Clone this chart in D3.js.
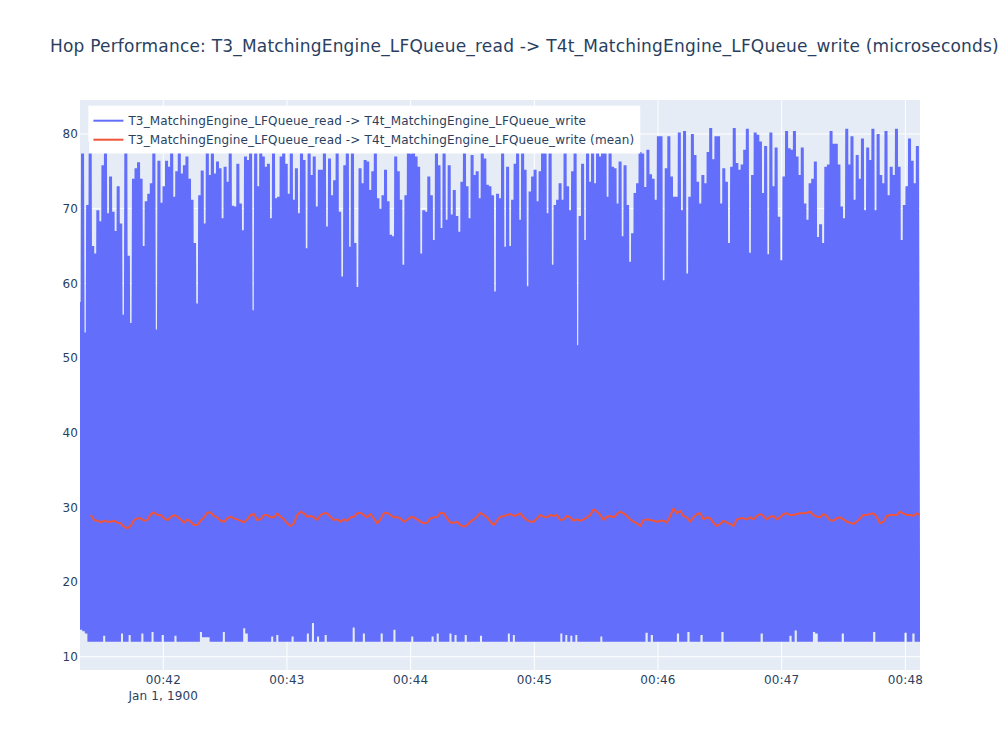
<!DOCTYPE html>
<html>
<head>
<meta charset="utf-8">
<script src="https://cdn.jsdelivr.net/npm/d3@7"></script>
<style>
  body { margin: 0; background: #ffffff; }
  text { font-family: "DejaVu Sans", Verdana, sans-serif; fill: #2a3f5f; letter-spacing: 0.14px; }
  text.title { letter-spacing: 0.2px; }
</style>
</head>
<body>
<svg id="chart" width="1000" height="750"></svg>
<script>
// ---------------- DATA ----------------
const chartTitle = "Hop Performance: T3_MatchingEngine_LFQueue_read -> T4t_MatchingEngine_LFQueue_write (microseconds)";
const seriesNames = [
  "T3_MatchingEngine_LFQueue_read -> T4t_MatchingEngine_LFQueue_write",
  "T3_MatchingEngine_LFQueue_read -> T4t_MatchingEngine_LFQueue_write (mean)"
];
const yTickValues = [10, 20, 30, 40, 50, 60, 70, 80];
const xDateLabel = "Jan 1, 1900";
const xRange = ["1900-01-01T00:41:19.600Z", "1900-01-01T00:48:07.100Z"];
const yRange = [8.22, 84.55];

// raw latency samples, read in three consecutive time windows (high and low of each sample pair)
const windowA = ["1900-01-01T00:41:19.600Z", "1900-01-01T00:44:43.400Z"];
const highsA = [
  57.5,77.4,53.4,70.5,79,65,64,69.8,68.3,75.8,79,69.4,74.3,69.6,67,
  73,68,55.8,77.5,63.7,54.7,74,75.4,76.2,74,65,71,72,73.4,79,
  53.8,76.4,70.8,73,76.4,75.6,80,71.6,75,78.5,74.7,75.8,77,74,71.2,
  65.4,57.3,71.8,75.1,68,79,74.5,80,74.7,76.3,75.4,68.7,75.6,73.6,78.5,
  70.4,70.3,76,70.7,67.1,77,76.5,79,56.4,80,73,79,77,75.6,76,
  68.7,78.5,71.4,71.6,77,79.5,76,72,78.5,71.2,75.4,69.4,80,76.5,64.7,
  78.2,74.5,77,70.3,75.2,75.2,79,67.6,76.7,71.8,73.8,78.5,69.6,60.9,75.8,
  80,64.9,79,65.4,59.5,75.4,73.4,76.5,76.3,72.5,75,79.5,71.4,70,71.8,
  75.2,71,66.5,66.3,77,75,71.2,62.5,71.8,80,77.4,78.8,77,75.6,64,
  69.8,69.6,74.3,71.8,65.8,79,75.8,67.4,79.5,68.5,75.8,69.2,72.5,69,66.9,
  73.6,78.5,73,68.7,77.2,74.5,75,71.4,79,76.7,73.2,73,71.8,58.9,72
];
const lowsA = [
  13.6,13.4,13.1,12,12,12,12,12,12,12.8,12,12,12,12,12,
  12,13.1,12,12,12.9,12,12,12,12,13.1,12,12,12,13.3,12,
  12,12,12.9,12,12,12,12,12.8,12,12,12,12,12,12,12,
  12,12,13.3,12.6,12.6,12.6,12,12,12,12,12,13.3,12,12,12,
  12,12,12,12,13.8,13.1,12,12,12,12,12,12,12,12,12,
  12.7,12,12.9,12,12,12,12,12,12.7,12,12,12,12,12,13.1,
  12,14.5,12,12.7,12,12,12.9,12,12,12,12,12,12,12,12,
  12,12,13.9,12,12,12,13.1,12,12,12,12,12,12,13.1,12,
  12,12,12,13.6,12,12,12,12,12,12,12.7,12,12,12,12,
  12,12,12,12.7,12,13.1,12,12,12,12,13.1,12,12.9,12,12,
  12,12.9,12,12,12,12,12,12.8,12,12,12,12,12,12,12
];

const windowB = ["1900-01-01T00:44:43.400Z", "1900-01-01T00:45:51.300Z"];
const highsB = [
  71.4,79,64.9,75.6,65,71.2,76,79.5,68.5,78.5,
  75.2,59.6,72.3,74.3,75.2,71,75,79,78.3,69.4,
  80,62.5,70.5,71.2,73.4,71.2,79,73,69.8,75,
  78.6,51.7,69,76,65.8,79.5,73.6,78.5,73.4,79,
  77,80,78.2,71.6,79,75.6,75.4,70.7,76.3,66.3,
  75.8,70.5,62.9,66.7,72.1,73.4
];
const lowsB = [
  12,12,12,13.1,12,12.9,12,12,12,12,12,12,12,12,
  12,12,12,12,12,12,12,12,12,12,13.1,12,12.9,12,
  12.8,12,12.9,12,12,12,12,12,12,12,12,12,12.7,12,
  12,12,12,12,12,12,12,12,12,12,12,12,12,12
];

const windowC = ["1900-01-01T00:45:51.300Z", "1900-01-01T00:48:07.100Z"];
const highsC = [
  77.6,77.4,72.9,77.9,74.6,74,71.2,79.7,79.7,60.4,
  75.4,79.7,74.3,71.6,71.6,80.2,69.8,80.4,61.3,71.6,
  80,77.2,73.6,70.7,74.5,73.4,77.6,80.8,76.6,79.7,
  79.7,70.7,75.4,73.6,65.4,75.6,80.8,76.1,75.2,75.9,
  77.9,80.7,64.1,74.5,80.2,79.9,79,72.1,78.4,63.9,
  80.2,73,78.2,68.9,63.1,74.3,80.4,78.1,77.9,80.4,
  77,74.5,78.2,70.7,68.5,73.4,74,76.3,66.2,67.9,
  65.4,75.6,75.9,80.4,78.7,78.7,75.9,70.3,68.7,80.7,
  75.9,79.7,71.2,77.2,74,79.4,69.8,78.2,76.5,80.7,
  69.8,80,74.5,73.4,80.4,71.8,75.6,74.5,80.7,75.6,
  65.8,70.5,73,79.4,76.4,73.4,78.4
];
const lowsC = [
  12,12,13.2,12,12.9,12,12,12,12,12,12,12,12,12,13.1,
  12,12,12,13.3,12,12,12,12,12.9,12,12,12,12,12,12,
  12,13.3,12,12,12,12,12,12,12,12,12,12,12,12,12,
  12,13.1,12,12,12,12,12,12,12,12,12,12,12.8,12,13.5,
  12,12,12,12,12,12,13.3,13.1,12,12,12,12,12,12,12,
  12,12,13.1,12,12,12,12,12,12,12,12,12,12,12,13.3,
  12,12,12,12,12,12,12,12,12,12,12,13.2,12,12,13.1,
  12,12
];

// rolling mean
const meanWindow = ["1900-01-01T00:41:24.800Z", "1900-01-01T00:48:07.100Z"];
const meanValues = [
  28.97,28.30,28.21,27.99,28.21,28.08,28.08,28.21,27.95,27.86,
  27.41,27.19,27.50,28.30,28.53,28.53,28.21,28.30,29.06,29.33,
  28.97,28.97,28.53,28.30,28.66,28.97,28.75,28.39,27.95,28.39,
  28.08,27.63,27.63,28.21,28.66,29.28,29.33,28.84,28.66,28.21,
  28.08,28.53,28.75,28.53,28.39,28.21,27.99,28.39,28.97,29.11,
  28.30,28.39,28.97,28.97,28.66,28.66,29.20,28.75,28.39,27.86,
  27.50,27.86,28.97,29.42,29.20,28.75,28.84,28.66,28.30,28.97,
  29.20,29.20,28.75,28.30,28.39,28.08,28.39,28.21,28.66,28.75,
  29.20,29.28,
  28.97,28.66,29.11,28.53,27.86,28.39,29.20,29.28,28.97,28.66,
  28.66,28.53,28.08,28.30,28.66,28.66,28.39,28.08,27.86,27.95,
  28.53,28.66,28.66,29.28,29.20,28.53,27.95,27.95,28.08,27.63,
  27.41,27.63,28.08,28.39,28.75,29.28,28.97,28.66,28.08,27.63,
  28.21,28.75,28.84,28.97,29.11,28.84,28.97,29.20,28.66,28.30,
  28.08,28.08,28.53,28.97,28.75,28.66,28.97,28.84,28.97,28.30,
  28.39,28.84,28.66,28.21,28.39,28.21,28.39,28.66,28.97,29.73,
  29.42,28.97,28.30,28.75,28.84,28.66,29.11,29.42,29.20,28.84,
  28.39,28.08,27.86,27.50,
  28.30,28.39,28.30,28.21,28.08,28.21,28.21,27.95,28.84,29.87,
  29.20,29.55,28.84,28.66,28.08,28.66,29.11,29.20,28.39,28.66,
  28.53,27.95,27.50,27.77,28.21,27.95,27.77,27.50,28.39,28.53,
  28.53,28.39,28.66,28.39,28.84,29.11,28.84,28.39,28.75,28.84,
  28.39,28.66,29.11,29.20,28.97,28.97,29.11,29.20,29.20,29.28,
  29.42,28.97,28.75,28.66,29.11,28.84,28.30,28.21,28.53,28.66,
  28.39,28.08,27.95,27.77,28.08,28.53,28.97,28.97,29.11,29.20,
  28.75,27.86,28.08,28.84,28.97,28.97,28.97,29.42,29.20,28.97,
  28.97,28.84,29.20,28.97
];

// ---------------- BUILD SERIES ----------------
const parse = d3.isoParse;
function windowSamples(win, highs, lows) {
  const s = +parse(win[0]), e = +parse(win[1]);
  const step = (e - s) / highs.length;
  const out = [];
  highs.forEach((h, i) => {
    out.push({ t: new Date(s + i * step), v: h });
    out.push({ t: new Date(s + (i + 0.5) * step), v: lows[i] });
  });
  return out;
}
const rawSeries = [].concat(
  windowSamples(windowA, highsA, lowsA),
  windowSamples(windowB, highsB, lowsB),
  windowSamples(windowC, highsC, lowsC)
);
const ms0 = +parse(meanWindow[0]), ms1 = +parse(meanWindow[1]);
const meanSeries = meanValues.map((v, i) => ({
  t: new Date(ms0 + i * (ms1 - ms0) / (meanValues.length - 1)), v
}));

// ---------------- LAYOUT ----------------
const W = 1000, H = 750;
const margin = { l: 80, r: 80, t: 100, b: 80 };
const pw = W - margin.l - margin.r, ph = H - margin.t - margin.b;
const svg = d3.select("#chart");

svg.append("rect").attr("width", W).attr("height", H).attr("fill", "#ffffff");

const x = d3.scaleUtc().domain(xRange.map(parse)).range([margin.l, margin.l + pw]);
const y = d3.scaleLinear().domain(yRange).range([margin.t + ph, margin.t]);

svg.append("rect").attr("x", margin.l).attr("y", margin.t)
  .attr("width", pw).attr("height", ph).attr("fill", "#E5ECF6");

svg.append("defs").append("clipPath").attr("id", "plotclip")
  .append("rect").attr("x", margin.l).attr("y", margin.t).attr("width", pw).attr("height", ph);

const xTicks = x.ticks(d3.utcMinute.every(1));
const grid = svg.append("g");
grid.selectAll("line.gx").data(xTicks).join("line")
  .attr("x1", d => x(d)).attr("x2", d => x(d))
  .attr("y1", margin.t).attr("y2", margin.t + ph)
  .attr("stroke", "#ffffff").attr("stroke-width", 1);
grid.selectAll("line.gy").data(yTickValues).join("line")
  .attr("x1", margin.l).attr("x2", margin.l + pw)
  .attr("y1", d => y(d)).attr("y2", d => y(d))
  .attr("stroke", "#ffffff").attr("stroke-width", 1);

// traces
const line = d3.line().x(d => x(d.t)).y(d => y(d.v));
const traces = svg.append("g").attr("clip-path", "url(#plotclip)");
traces.append("path").datum(rawSeries).attr("d", line)
  .attr("fill", "none").attr("stroke", "#636EFA").attr("stroke-width", 3)
  .attr("stroke-linejoin", "bevel");
traces.append("path").datum(meanSeries).attr("d", line)
  .attr("fill", "none").attr("stroke", "#EF553B").attr("stroke-width", 2)
  .attr("stroke-linejoin", "round");

// axes labels
const fmt = d3.utcFormat("%H:%M");
const xl = svg.append("g");
xl.selectAll("text").data(xTicks).join("text")
  .attr("x", d => x(d)).attr("y", 684)
  .attr("text-anchor", "middle").attr("font-size", 12)
  .text(d => fmt(d));
xl.append("text").attr("x", x(xTicks[0])).attr("y", 699.5)
  .attr("text-anchor", "middle").attr("font-size", 12).text(xDateLabel);

svg.append("g").selectAll("text").data(yTickValues).join("text")
  .attr("x", margin.l - 2).attr("y", d => y(d)).attr("dy", "0.35em")
  .attr("text-anchor", "end").attr("font-size", 12)
  .text(d => d);

// title
svg.append("text").attr("class", "title").attr("x", 50).attr("y", 52)
  .attr("font-size", 17).text(chartTitle);

// legend
const lg = svg.append("g").attr("transform", `translate(${margin.l + 0.01 * pw},${margin.t + 0.01 * ph})`);
const lgBg = lg.append("rect").attr("x", 0).attr("y", 0).attr("height", 47.8).attr("fill", "#ffffff");
const colors = ["#636EFA", "#EF553B"];
let maxW = 0;
seriesNames.forEach((name, i) => {
  const cy = 15 + i * 19;
  lg.append("line").attr("x1", 5).attr("x2", 35).attr("y1", cy).attr("y2", cy)
    .attr("stroke", colors[i]).attr("stroke-width", 2);
  const t = lg.append("text").attr("x", 40).attr("y", cy).attr("dy", "0.35em")
    .attr("font-size", 12).text(name);
  maxW = Math.max(maxW, t.node().getComputedTextLength());
});
lgBg.attr("width", 40 + maxW + 6);
</script>
</body>
</html>
